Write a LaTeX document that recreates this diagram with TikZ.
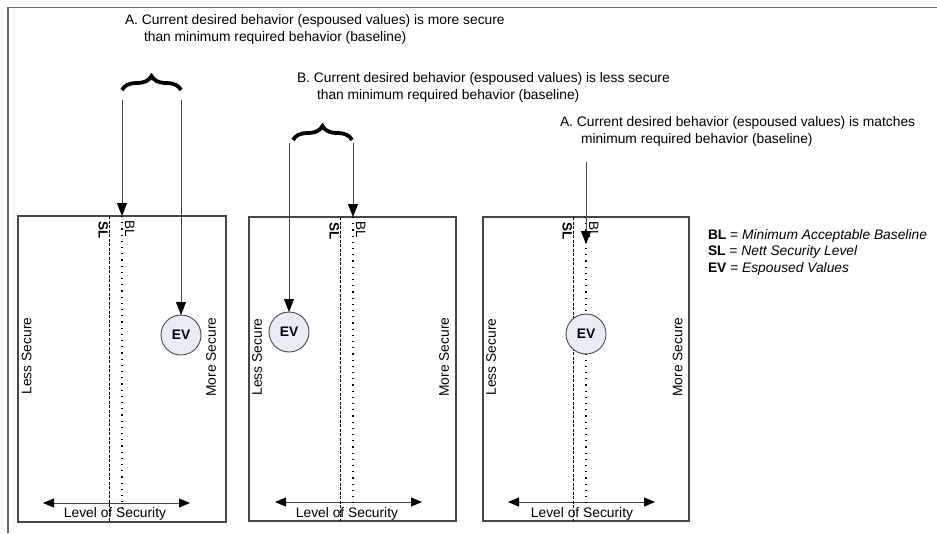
\documentclass[tikz,border=0pt]{standalone}
\usepackage{fontspec}
\setmainfont{Liberation Sans}
\usetikzlibrary{arrows.meta,decorations.pathreplacing}
\definecolor{evfill}{RGB}{232,236,247}
\definecolor{linegray}{RGB}{70,70,70}
\begin{document}
\begin{tikzpicture}[x=1pt,y=1pt,
  every node/.style={inner sep=0pt,outer sep=0pt},
  txt/.style={font=\fontsize{13.8}{16.5}\selectfont,align=left},
  small/.style={font=\fontsize{13.8}{16.5}\selectfont},
  tag/.style={font=\fontsize{13.5}{15}\selectfont,rotate=-90},
  side/.style={font=\fontsize{13.8}{16.5}\selectfont,rotate=90},
  frameline/.style={draw=black!60,line width=1.5pt},
  panel/.style={draw=linegray,line width=1.1pt,anchor=north west},
  ptr/.style={draw=linegray,line width=0.9pt,-{Triangle[length=13pt,width=10pt,color=black]}},
  dbl/.style={draw=linegray,line width=0.9pt,{Triangle[length=11pt,width=9pt,color=black]}-{Triangle[length=11pt,width=9pt,color=black]}},
  sline/.style={draw=black,line width=0.7pt,dash pattern=on 3pt off 1.5pt},
  bline/.style={draw=black,line width=1.2pt,dash pattern=on 1.2pt off 5pt},
  ev/.style={circle,draw=linegray,line width=0.9pt,fill=evfill,minimum size=40pt,font=\fontsize{13.8}{16.5}\selectfont\bfseries},
  bracket/.style={draw=black,line width=3.8pt,decorate,decoration={brace,amplitude=14pt}}
]
\useasboundingbox (0,0) rectangle (937,-533);

% outer frame (top and left edges)
\coordinate (fl) at (8,-533);
\coordinate (fc) at (8,-7.5);
\coordinate (fr) at (937,-7.5);
\draw[frameline] (fl) -- (fc) -- (fr);

% ---------- captions ----------
\node[txt,anchor=base west] (capA) at (125,-41)
  {A. Current desired behavior (espoused values) is more secure\\
   \hspace*{19pt}than minimum required behavior (baseline)};
\node[txt,anchor=base west] (capB) at (297,-99)
  {B. Current desired behavior (espoused values) is less secure\\
   \hspace*{20pt}than minimum required behavior (baseline)};
\node[txt,anchor=base west] (capC) at (560,-143)
  {A. Current desired behavior (espoused values) is matches\\
   \hspace*{21pt}minimum required behavior (baseline)};

% ---------- legend ----------
\node[txt,anchor=base west] (legend) at (708,-272)
  {\textbf{BL} = \textit{Minimum Acceptable Baseline}\\
   \textbf{SL} = \textit{Nett Security Level}\\
   \textbf{EV} = \textit{Espoused Values}};

% ---------- panels ----------
\node[panel,minimum width=208pt,minimum height=306pt] (p1) at (18,-216) {};
\node[panel,minimum width=207pt,minimum height=304pt] (p2) at (249,-217) {};
\node[panel,minimum width=206pt,minimum height=304pt] (p3) at (483,-217) {};

% side labels
\node[side] (less1) at (26.5,-356) {Less Secure};
\node[side] (more1) at (211,-357) {More Secure};
\node[side] (less2) at (257,-357) {Less Secure};
\node[side] (more2) at (444,-357) {More Secure};
\node[side] (less3) at (491,-357) {Less Secure};
\node[side] (more3) at (677.5,-357) {More Secure};

% level of security scales
\node[small,anchor=base] (los1) at (115,-517) {Level of Security};
\node[small,anchor=base] (los2) at (347,-517) {Level of Security};
\node[small,anchor=base] (los3) at (582,-517) {Level of Security};
\coordinate (s1l) at (43,-503);  \coordinate (s1r) at (190,-503);
\coordinate (s2l) at (275,-502); \coordinate (s2r) at (422,-502);
\coordinate (s3l) at (508,-502); \coordinate (s3r) at (655,-502);
\draw[dbl] (s1l) -- (s1r);
\draw[dbl] (s2l) -- (s2r);
\draw[dbl] (s3l) -- (s3r);

% security level (dashed) and baseline (dotted) lines
\coordinate (sl1t) at (109,-216); \coordinate (sl1b) at (109,-522);
\coordinate (bl1t) at (122,-216); \coordinate (bl1b) at (122,-508);
\coordinate (sl2t) at (340,-217); \coordinate (sl2b) at (340,-521);
\coordinate (bl2t) at (353,-217); \coordinate (bl2b) at (353,-508);
\coordinate (sl3t) at (573,-217); \coordinate (sl3b) at (573,-521);
\coordinate (bl3t) at (586,-217); \coordinate (bl3b) at (586,-508);
\draw[sline] (sl1t) -- (sl1b);
\draw[bline] (bl1t) -- (bl1b);
\draw[sline] (sl2t) -- (sl2b);
\draw[bline] (bl2t) -- (bl2b);
\draw[sline] (sl3t) -- (sl3b);
\draw[bline] (bl3t) -- (bl3b);

% line tags
\node[tag,anchor=north west,font=\fontsize{13.5}{15}\selectfont\bfseries] (slt1) at (108,-221) {SL};
\node[tag,anchor=south west] (blt1) at (125,-220) {BL};
\node[tag,anchor=north west,font=\fontsize{13.5}{15}\selectfont\bfseries] (slt2) at (339,-222) {SL};
\node[tag,anchor=south west] (blt2) at (356,-221) {BL};
\node[tag,anchor=north west,font=\fontsize{13.5}{15}\selectfont\bfseries] (slt3) at (572,-222) {SL};
\node[tag,anchor=south west] (blt3) at (589,-221) {BL};

% espoused values
\node[ev] (ev1) at (181,-335) {EV};
\node[ev] (ev2) at (289,-332) {EV};
\node[ev] (ev3) at (586,-334) {EV};

% braces
\coordinate (brAl) at (122,-90); \coordinate (brAr) at (181,-90);
\coordinate (brBl) at (293,-140); \coordinate (brBr) at (352,-140);
\draw[bracket] (brAl) -- (brAr);
\draw[bracket] (brBl) -- (brBr);

% pointers
\coordinate (a1) at (122,-100); \coordinate (a2) at (181,-100);
\coordinate (b1) at (289,-143); \coordinate (b2) at (353,-143);
\coordinate (c1) at (586,-162); \coordinate (c1e) at (586,-244);
\draw[ptr] (a1) -- (bl1t);
\draw[ptr] (a2) -- (ev1);
\draw[ptr] (b1) -- (ev2);
\draw[ptr] (b2) -- (bl2t);
\draw[ptr] (c1) -- (c1e);
\end{tikzpicture}
\end{document}
